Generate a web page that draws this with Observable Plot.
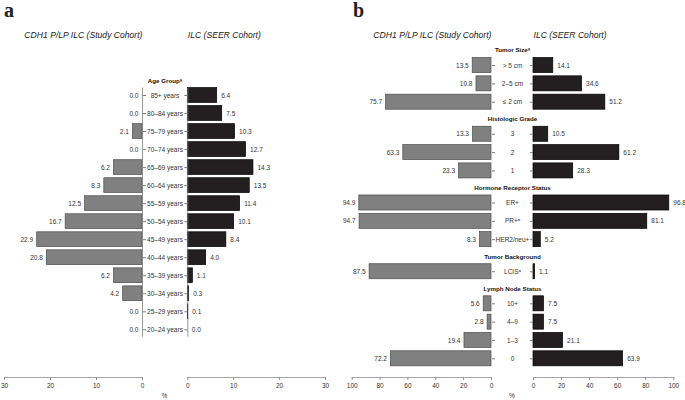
<!DOCTYPE html>
<html><head><meta charset="utf-8">
<script src="https://cdn.jsdelivr.net/npm/d3@7"></script>
<script src="https://cdn.jsdelivr.net/npm/@observablehq/plot@0.6"></script>
<style>
body{margin:0;background:#fff;font-family:"Liberation Sans",Arial,Helvetica,sans-serif;}
#chart{position:relative;width:685px;height:400px;overflow:hidden;background:#fff;}
#chart svg{position:absolute;left:0;top:0;background:transparent;}
.lab{position:absolute;color:#222;line-height:1;white-space:nowrap;}
.letter{font-family:"Liberation Serif","DejaVu Serif",serif;font-weight:bold;font-size:20px;}
.pct{font-size:6.5px;color:#333;transform:translate(-50%,-50%);}
</style></head><body><div id="chart"></div>
<script>
// ---------- Panel a: Age group ----------
const ageGroups = ["85+ years","80–84 years","75–79 years","70–74 years","65–69 years","60–64 years","55–59 years","50–54 years","45–49 years","40–44 years","35–39 years","30–34 years","25–29 years","20–24 years"];
const ageStudy = [0.0,0.0,2.1,0.0,6.2,8.3,12.5,16.7,22.9,20.8,6.2,4.2,0.0,0.0];
const ageSeer  = [6.4,7.5,10.3,12.7,14.3,13.5,11.4,10.1,8.4,4.0,1.1,0.3,0.1,0.0];
const ageHeader = "Age Groupᵃ";
const ageTicks = [0,10,20,30];

// ---------- Panel b: tumour characteristics ----------
const sizeCats = ["> 5 cm","2–5 cm","≤ 2 cm"];
const sizeStudy = [13.5,10.8,75.7];
const sizeSeer  = [14.1,34.6,51.2];
const gradeCats = ["3","2","1"];
const gradeStudy = [13.3,63.3,23.3];
const gradeSeer  = [10.5,61.2,28.3];
const hrCats = ["ER+","PR+ᵃ","HER2/neu+"];
const hrStudy = [94.9,94.7,8.3];
const hrSeer  = [96.8,81.1,5.2];
const bgCats = ["LCISᵃ"];
const bgStudy = [87.5];
const bgSeer  = [1.1];
const lnCats = ["10+","4–9","1–3","0"];
const lnStudy = [5.6,2.8,19.4,72.2];
const lnSeer  = [7.5,7.5,21.1,63.9];
const groupHeaders = ["Tumor Sizeᵃ","Histologic Grade","Hormone Receptor Status","Tumor Background","Lymph Node Status"];
const bTicks = [0,20,40,60,80,100];

const titleStudy = "CDH1 P/LP ILC (Study Cohort)";
const titleSeer = "ILC (SEER Cohort)";

// ---------- build rows ----------
const aRows = ageGroups.map((c,i)=>({cat:c, study:ageStudy[i], seer:ageSeer[i], pos:i}));
const aHeaders = [{text: ageHeader, pos: -0.82}];

const bSets = [[sizeCats,sizeStudy,sizeSeer],[gradeCats,gradeStudy,gradeSeer],[hrCats,hrStudy,hrSeer],[bgCats,bgStudy,bgSeer],[lnCats,lnStudy,lnSeer]];
const bRows = [], bHeaders = [];
{
  let p = 0;
  bSets.forEach(([cats,st,se],g)=>{
    bHeaders.push({text: groupHeaders[g], pos: p});
    p += 0.82;
    cats.forEach((c,k)=>{ bRows.push({cat:c, study:st[k], seer:se[k], pos:p}); p += 1; });
    p += -1 + 0.93;
  });
}

const W = 685, H = 400;
const font = "'Liberation Sans', Arial, Helvetica, sans-serif";

function half({rows, headers, side, xmax, ticks, zero, end, yDomain, yRange, line, centerDx}) {
  const left = side === "left";
  const key = left ? "study" : "seer";
  const h = 0.41;
  const marks = [
    Plot.frame({anchor: "bottom", stroke: "#8f8f8f", strokeWidth: 0.8}),
    Plot.axisX({ticks, tickSize: 3, tickPadding: 3, fontSize: 6.5, stroke: "#8f8f8f", fill: "#333", label: null}),
    Plot.rectX(rows, {x1: 0, x2: key, y1: d => d.pos - h, y2: d => d.pos + h,
      fill: left ? "#808080" : "#231f20", stroke: left ? "#4d4d4d" : "#000", strokeWidth: 0.7}),
    Plot.text(rows, {x: key, y: "pos", text: d => d[key].toFixed(1), textAnchor: left ? "end" : "start",
      dx: left ? -4 : 4, fontSize: 6.5, fill: "#333"}),
    Plot.axisY(rows.map(d => d.pos), {anchor: left ? "right" : "left", tickSize: 3, tickFormat: () => "", stroke: "#808080", label: null}),
    Plot.text([left ? titleStudy : titleSeer], {frameAnchor: left ? "top-right" : "top-left",
      textAnchor: left ? "end" : "start", lineAnchor: "middle", fontStyle: "italic", fontSize: 8.6, fill: "#222"})
  ];
  if (line) {
    marks.push(Plot.ruleX([0], {y1: d3.min(rows, d => d.pos) - h, y2: d3.max(rows, d => d.pos) + h, stroke: "#808080", strokeWidth: 0.8}));
  }
  if (left) {
    marks.push(Plot.text(rows, {x: 0, y: "pos", text: "cat", dx: centerDx, textAnchor: "middle", fontSize: 6.5, fill: "#333"}));
    marks.push(Plot.text(headers, {x: 0, y: "pos", text: "text", dx: centerDx, textAnchor: "middle", fontSize: 6.2, fontWeight: "bold", fill: "#111"}));
  }
  const svg = Plot.plot({
    width: W, height: H,
    marginLeft: left ? end : zero,
    marginRight: left ? W - zero : W - end,
    marginTop: 35, marginBottom: 23,
    x: {domain: [0, xmax], reverse: left},
    y: {domain: yDomain, range: yRange},
    style: {fontFamily: font, background: "transparent", overflow: "visible"},
    marks
  });
  return svg;
}

const chart = document.getElementById("chart");
const aY = [0, ageGroups.length - 1];
const bY = [0, d3.max(bRows, d => d.pos)];
chart.appendChild(half({rows: aRows, headers: aHeaders, side: "left", xmax: 30, ticks: ageTicks, zero: 142, end: 4, yDomain: aY, yRange: [95, 329.3], line: true, centerDx: 22.5}));
chart.appendChild(half({rows: aRows, headers: aHeaders, side: "right", xmax: 30, ticks: ageTicks, zero: 187.3, end: 325, yDomain: aY, yRange: [95, 329.3], line: true}));
chart.appendChild(half({rows: bRows, headers: bHeaders, side: "left", xmax: 100, ticks: bTicks, zero: 491, end: 351.7, yDomain: bY, yRange: [50, 358.3], line: false, centerDx: 21}));
chart.appendChild(half({rows: bRows, headers: bHeaders, side: "right", xmax: 100, ticks: bTicks, zero: 533, end: 673.3, yDomain: bY, yRange: [50, 358.3], line: false}));

function label(text, cls, x, y) {
  const d = document.createElement("div");
  d.className = "lab " + cls;
  d.textContent = text;
  d.style.left = x + "px"; d.style.top = y + "px";
  chart.appendChild(d);
}
label("a", "letter", 4, 0);
label("b", "letter", 353, 0);
label("%", "pct", 164.5, 396);
label("%", "pct", 512, 396);
</script></body></html>
